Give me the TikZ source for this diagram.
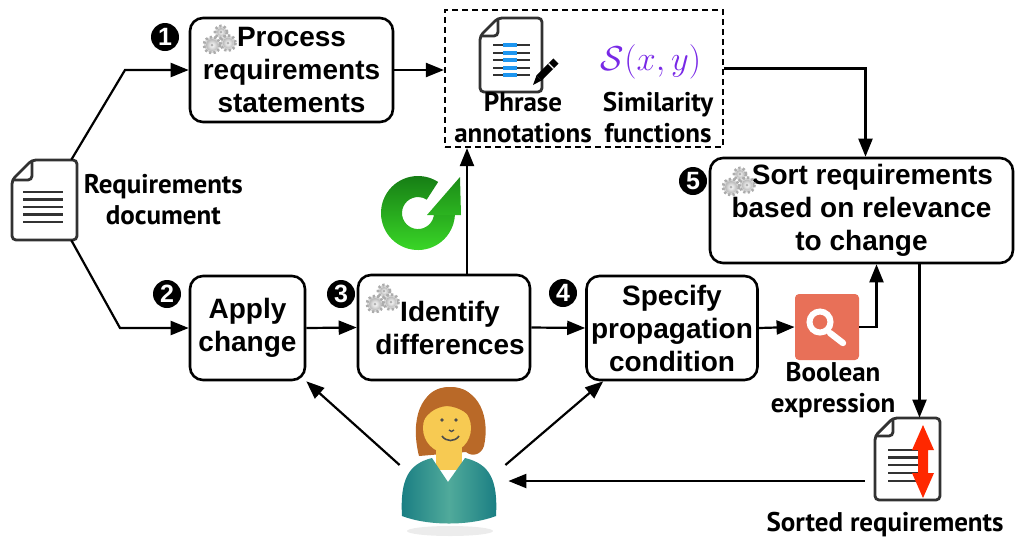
\documentclass[tikz,border=0pt]{standalone}
\usepackage{fontspec}
\setmainfont{Liberation Sans}
\newfontfamily\capfont{PT Sans}
\usetikzlibrary{arrows.meta,positioning,shapes}

\definecolor{hair}{RGB}{185,105,40}
\definecolor{skin}{RGB}{247,202,82}
\definecolor{shirt}{RGB}{80,170,155}
\definecolor{shirtdark}{RGB}{25,125,130}
\definecolor{magbg}{RGB}{232,112,88}
\definecolor{simcolor}{RGB}{120,40,230}
\definecolor{annblue}{RGB}{30,150,240}
\definecolor{docgray}{RGB}{50,50,50}
\definecolor{refresh}{RGB}{20,120,20}
\definecolor{refreshlight}{RGB}{60,220,40}
\definecolor{sortred}{RGB}{255,40,0}

\tikzstyle{block} = [draw, line width=1.3pt, rounded corners=6.5pt, align=center, inner sep=2pt, font=\fontsize{14}{16.5}\selectfont\bfseries]
\tikzstyle{stepnum} = [circle, fill=black, text=white, inner sep=0pt, minimum size=14pt, font=\fontsize{12.5}{12.5}\selectfont\bfseries]
\tikzstyle{iconcap} = [align=center, inner sep=0pt, font=\capfont\bfseries\fontsize{13.5}{15.5}\selectfont]
\tikzstyle{flow} = [line width=1.1pt, -{Triangle[length=9pt,width=7pt]}]
\tikzstyle{docline} = [draw=docgray, line width=1.4pt, rounded corners=2pt, fill=white]
\tikzstyle{spot} = [inner sep=0pt]

% three small gears
\newcommand{\gears}[2]{%
  \begin{scope}[shift={(#1,#2)}]
    \foreach \gx/\gy/\gr in {2/-8/6, -7/5/8, 9/3/7.5}{
      \draw[gray!65, line width=1.4pt, dash pattern=on 1.1pt off 1.1pt, fill=gray!30] (\gx,\gy) circle (\gr);
      \shade[inner color=white, outer color=gray!55] (\gx,\gy) circle (\gr-2);
      \fill[gray!60] (\gx,\gy) circle (1.5);
    }
  \end{scope}}

\begin{document}
\begin{tikzpicture}[x=0.5pt,y=-0.5pt]
\useasboundingbox (0,0) rectangle (1018,543);

% process steps
\node[block, minimum width=101.5pt, minimum height=52pt] (process) at (291.5,70) {Process\\requirements\\statements};
\node[block, minimum width=57.5pt, minimum height=52pt] (apply) at (247.5,328) {Apply\\change};
\node[block, minimum width=86pt, minimum height=52.5pt] (identify) at (444,327.5) {\hspace*{6pt}Identify\\\hspace*{6pt}differences};
\node[block, minimum width=85.5pt, minimum height=52pt] (specify) at (672,328) {Specify\\propagation\\condition};
\node[block, minimum width=151.5pt, minimum height=52.5pt] (sort) at (861.5,210.5) {\hspace*{11pt}Sort requirements\\based on relevance\\to change};
\gears{219}{40}
\gears{382}{299}
\gears{738}{182}

% step numbers
\node[stepnum] (n1) at (165,37) {1};
\node[stepnum] (n2) at (167,294) {2};
\node[stepnum] (n3) at (341,294) {3};
\node[stepnum] (n4) at (563,293) {4};
\node[stepnum] (n5) at (693,181) {5};

% requirements document
\node[spot, minimum width=32.5pt, minimum height=40pt] (reqdoc) at (44.5,200) {};
\draw[docline] (12,180) -- (32,160) -- (77,160) -- (77,240) -- (12,240) -- cycle;
\draw[docline, fill=none] (12,180) -- (32,180) -- (32,160);
\foreach \yy in {192,199.5,207,214.5,222}
  \draw[docgray, line width=1.2pt] (23,\yy) -- (63,\yy);
\node[iconcap, right=3pt of reqdoc] (reqcap) {Requirements\\document};

% annotations and similarity
\node[draw, dashed, dash pattern=on 3pt off 2pt, line width=1.1pt, minimum width=139pt, minimum height=68.5pt] (tools) at (584,78.5) {};
\node[spot, minimum width=31pt, minimum height=37pt] (phrasedoc) at (511,55) {};
\draw[docline] (480,36) -- (498,18) -- (542,18) -- (542,92) -- (480,92) -- cycle;
\draw[docline, fill=none] (480,36) -- (498,36) -- (498,18);
\foreach \yy in {45,53,60,68,75}{
  \draw[docgray, line width=1.2pt] (493,\yy) -- (530,\yy);
  \draw[annblue, line width=2pt] (503,\yy) -- (517,\yy);
}
\draw[black, line width=3.6pt] (539,78) -- (556,61);
\fill[black] (541.5,80.5) -- (536.5,75.5) -- (533,85) -- cycle;
\draw[white, line width=0.7pt] (548.5,63.5) -- (553.5,68.5);
\node[iconcap] (phrasecap) at (523,118) {Phrase\\annotations};
\node[text=simcolor, font=\fontsize{17}{20}\selectfont] (simfun) at (651,62) {$\mathcal{S}(x,y)$};
\node[iconcap] (simcap) at (658,118) {Similarity\\functions};

% redo icon
\shade[top color=refresh, bottom color=refreshlight] (418,213) ++(-57:37) arc (-57:-358:37)
  -- (434,213.6) arc (-358:-57:16) -- cycle;
\shade[top color=refresh!80!refreshlight, bottom color=refresh!40!refreshlight] (427,215) -- (461,215) -- (460,177) -- cycle;

% boolean expression
\node[spot, fill=magbg, rounded corners=2pt, minimum width=32pt, minimum height=33pt] (boolexpr) at (827,327) {};
\draw[white, line width=3pt] (820,322) circle (10.5);
\draw[white, line width=3.2pt, line cap=round] (830,333) -- (843,343);
\node[iconcap] (boolcap) at (833,390) {Boolean\\expression};

% sorted requirements
\node[spot, minimum width=32.5pt, minimum height=41pt] (sorteddoc) at (907.5,459) {};
\draw[docline] (875,436) -- (893,418) -- (940,418) -- (940,500) -- (875,500) -- cycle;
\draw[docline, fill=none] (875,436) -- (893,436) -- (893,418);
\foreach \yy in {450,457.5,465,473,481}
  \draw[docgray, line width=1.2pt] (888,\yy) -- (918,\yy);
\fill[sortred] (923,425) -- (934,450) -- (928,450) -- (928,473) -- (934,473) -- (923,498)
  -- (912,473) -- (918,473) -- (918,450) -- (912,450) -- cycle;
\node[iconcap] (sortedcap) at (885,525) {Sorted requirements};

% user
\node[spot, minimum width=54pt, minimum height=72.5pt] (user) at (454,457.5) {};
\fill[gray!15] (450,531) ellipse (43 and 5);
\fill[hair] (419,456) .. controls (410,420) and (420,388) .. (450,387) .. controls (480,388) and (490,418) .. (484,446)
  .. controls (481,455) and (472,457) .. (466,452) -- cycle;
\fill[skin] (436,445) rectangle (462,470);
\shade[left color=shirtdark, right color=shirtdark, middle color=shirt] (402,516) .. controls (400,480) and (408,464) .. (432,458) -- (448,482) -- (465,458) .. controls (490,464) and (498,480) .. (496,516) .. controls (470,526) and (428,526) .. (402,516) -- cycle;
\fill[skin] (447,428) ellipse (24 and 25);
\fill[hair] (421,426) .. controls (419,398) and (432,387) .. (450,387) .. controls (470,387) and (482,400) .. (475,424)
  .. controls (470,414) and (460,407) .. (447,406) .. controls (434,407) and (425,415) .. (421,426) -- cycle;
\fill[black!70] (442,420) circle (1.8) (456,420) circle (1.8);
\draw[black!70, line width=0.7pt] (449,430) .. controls (450,432) and (453,432) .. (454,430);
\draw[black!70, line width=0.8pt] (442,436) .. controls (446,442) and (455,442) .. (459,436);

% connectors
\draw[flow] ([xshift=-3pt]reqdoc.north east) -- (125,70) -- (process.west);
\draw[flow] ([xshift=-3pt]reqdoc.south east) -- (120,328) -- (apply.west);
\draw[flow] (process.east) -- (process.east -| tools.west);
\draw[flow] ([yshift=5pt]tools.east) -| ([xshift=2pt]sort.north);
\draw[flow] (apply.east) -- (identify.west);
\draw[flow] (identify.east) -- (specify.west);
\draw[flow] ([xshift=11.5pt]identify.north) -- ([xshift=11.5pt]identify.north |- tools.south);
\draw[flow] (specify.east) -- (boolexpr.west);
\draw[flow] (boolexpr.east) -| ([xshift=7.5pt]sort.south);
\draw[flow] ([xshift=29pt]sort.south) -- ([xshift=29pt]sort.south |- sorteddoc.north);
\draw[flow] ([xshift=-5pt,yshift=-11pt]sorteddoc.west) -- ([yshift=-11pt]sorteddoc.west -| user.east);
\draw[flow] ([yshift=-3.75pt]user.west) -- (apply.south east);
\draw[flow] ([xshift=-1.5pt,yshift=-3.75pt]user.east) -- ([xshift=9pt]specify.south west);
\end{tikzpicture}
\end{document}
